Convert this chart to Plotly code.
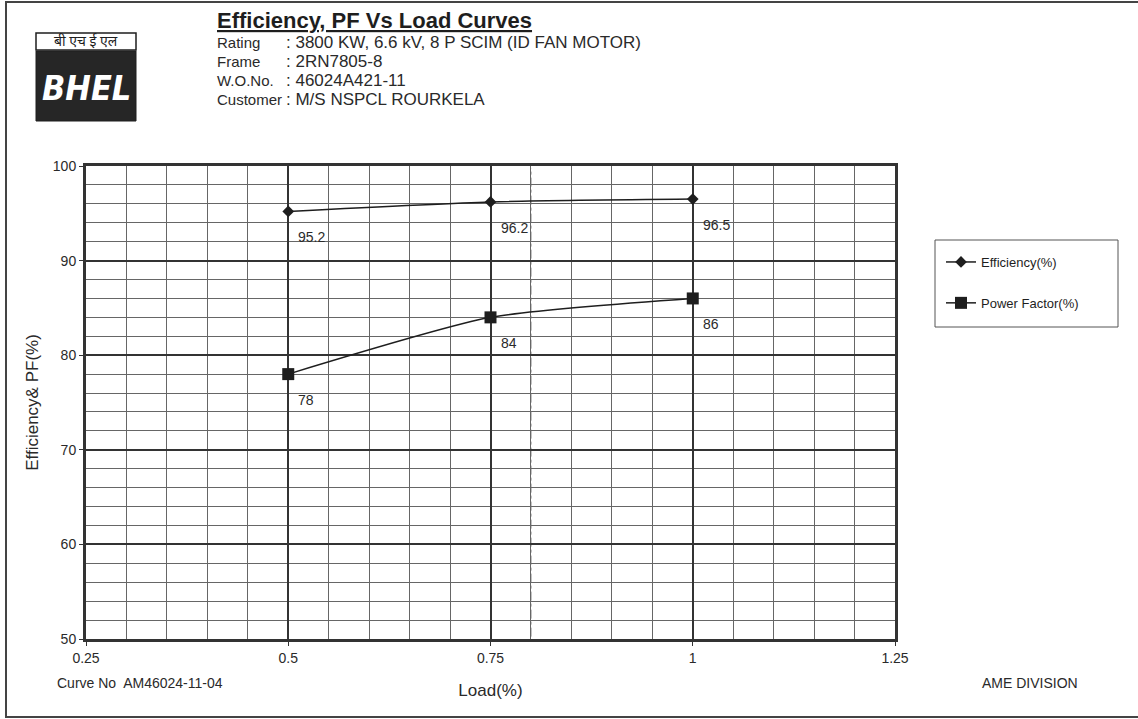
import plotly.graph_objects as go

# ---- data ----
load = [0.5, 0.75, 1.0]
efficiency = [95.2, 96.2, 96.5]
power_factor = [78, 84, 86]
eff_labels = ["95.2", "96.2", "96.5"]
pf_labels = ["78", "84", "86"]
x_tickvals = [0.25, 0.5, 0.75, 1.0, 1.25]
x_ticktext = ["0.25", "0.5", "0.75", "1", "1.25"]
y_tickvals = [50, 60, 70, 80, 90, 100]

header_title = "Efficiency, PF Vs Load Curves"
header_labels = ["Rating", "Frame", "W.O.No.", "Customer"]
header_values = [": 3800 KW, 6.6 kV, 8 P SCIM (ID FAN MOTOR)",
                 ": 2RN7805-8",
                 ": 46024A421-11",
                 ": M/S NSPCL ROURKELA"]
curve_no = "Curve No  AM46024-11-04"
division = "AME DIVISION"
logo_hindi = "बी एच ई एल"
logo_text = "BHEL"

# ---- layout geometry ----
W, H = 1138, 719
L, R, T, B = 86, 895, 166, 639
FONT = "Liberation Sans, Arial, sans-serif"
INK = "#1e1e1e"
TXT = "#2a2a2a"


def px(xp):
    return (xp - L) / (R - L)


def py(yp):
    return 1 - (yp - T) / (B - T)


fig = go.Figure()
fig.add_trace(go.Scatter(
    x=load, y=efficiency, mode="lines+markers", name="Efficiency(%)",
    legendgroup="eff",
    line=dict(color=INK, width=1.5, shape="spline", smoothing=0.6),
    marker=dict(symbol="diamond", size=9, color=INK),
))
fig.add_trace(go.Scatter(
    x=load, y=power_factor, mode="lines+markers", name="Power Factor(%)",
    legendgroup="pf",
    line=dict(color=INK, width=1.5, shape="spline", smoothing=0.6),
    marker=dict(symbol="square", size=12, color=INK),
))

annotations = []
for xs, ys, labs in ((load, efficiency, eff_labels), (load, power_factor, pf_labels)):
    for xv, yv, t in zip(xs, ys, labs):
        annotations.append(dict(
            x=xv, y=yv, xref="x", yref="y", text=t, showarrow=False,
            xanchor="left", yanchor="top", xshift=8, yshift=-16,
            font=dict(family=FONT, size=14, color=TXT)))

# header
annotations.append(dict(
    x=px(215), y=py(20), xref="paper", yref="paper",
    text="<b><u>" + header_title + "</u></b>", showarrow=False,
    xanchor="left", yanchor="middle", font=dict(family=FONT, size=22, color=INK)))
for i, (lab, val) in enumerate(zip(header_labels, header_values)):
    yy = 43 + i * 18.7
    annotations.append(dict(
        x=px(215), y=py(yy), xref="paper", yref="paper", text=lab,
        showarrow=False, xanchor="left", yanchor="middle",
        font=dict(family=FONT, size=15, color=TXT)))
    annotations.append(dict(
        x=px(284), y=py(yy), xref="paper", yref="paper", text=val,
        showarrow=False, xanchor="left", yanchor="middle",
        font=dict(family=FONT, size=17, color=TXT)))

# logo texts
annotations.append(dict(
    x=px(86), y=py(41), xref="paper", yref="paper", text=logo_hindi,
    showarrow=False, xanchor="center", yanchor="middle",
    font=dict(family="Noto Sans, sans-serif", size=14, color=INK)))
annotations.append(dict(
    x=px(86), y=py(88), xref="paper", yref="paper",
    text="<b><i>" + logo_text + "</i></b>",
    showarrow=False, xanchor="center", yanchor="middle",
    font=dict(family="DejaVu Sans Condensed, DejaVu Sans, sans-serif", size=34, color="white")))

# footer
annotations.append(dict(
    x=px(55), y=py(683), xref="paper", yref="paper", text=curve_no,
    showarrow=False, xanchor="left", yanchor="middle",
    font=dict(family=FONT, size=14, color=TXT)))
annotations.append(dict(
    x=px(980), y=py(683), xref="paper", yref="paper", text=division,
    showarrow=False, xanchor="left", yanchor="middle",
    font=dict(family=FONT, size=14, color=TXT)))

shapes = [
    # page frame
    dict(type="rect", xref="paper", yref="paper",
         x0=px(6), x1=px(1150), y0=py(717), y1=py(2),
         line=dict(color="#444", width=2), fillcolor="rgba(0,0,0,0)", layer="below"),
    # legend box
    dict(type="rect", xref="paper", yref="paper",
         x0=px(935), x1=px(1118), y0=py(327), y1=py(240),
         line=dict(color="#555", width=1), fillcolor="white", layer="below"),
    # logo
    dict(type="rect", xref="paper", yref="paper",
         x0=px(36), x1=px(136), y0=py(50), y1=py(33),
         line=dict(color=INK, width=1.5), fillcolor="white"),
    dict(type="rect", xref="paper", yref="paper",
         x0=px(36), x1=px(136), y0=py(121), y1=py(51),
         line=dict(color=INK, width=1), fillcolor="#262626"),
    # faint dash-dot vertical line seen on the sheet
    dict(type="line", xref="x", yref="paper", x0=0.8, x1=0.8, y0=0.005, y1=0.995,
         line=dict(color="#777", width=1, dash="dashdot"), layer="below"),
]

fig.update_layout(
    width=W, height=H,
    margin=dict(l=L, r=W - R, t=T, b=H - B),
    paper_bgcolor="white", plot_bgcolor="white",
    font=dict(family=FONT, color=INK),
    showlegend=True,
    legend=dict(
        x=px(941), y=py(247), xanchor="left", yanchor="top",
        borderwidth=0, bgcolor="rgba(0,0,0,0)",
        font=dict(family=FONT, size=13, color=INK),
        tracegroupgap=21, traceorder="grouped",
    ),
    annotations=annotations,
    shapes=shapes,
    xaxis=dict(
        range=[0.25, 1.25], tickvals=x_tickvals, ticktext=x_ticktext,
        showgrid=True, gridcolor="#333", gridwidth=1.5,
        minor=dict(tick0=0.25, dtick=0.05, showgrid=True,
                   gridcolor="#666", gridwidth=1),
        showline=True, linecolor="#333", linewidth=3, mirror=True,
        ticks="outside", ticklen=4, tickcolor="#333", zeroline=False,
        tickfont=dict(family=FONT, size=14, color=TXT),
        title=dict(text="Load(%)", standoff=20,
                   font=dict(family=FONT, size=17, color=TXT)),
    ),
    yaxis=dict(
        range=[50, 100], tickvals=y_tickvals,
        showgrid=True, gridcolor="#333", gridwidth=1.5,
        minor=dict(tick0=50, dtick=2, showgrid=True,
                   gridcolor="#666", gridwidth=1),
        showline=True, linecolor="#333", linewidth=3, mirror=True,
        ticks="outside", ticklen=4, tickcolor="#333", zeroline=False,
        tickfont=dict(family=FONT, size=14, color=TXT),
        title=dict(text="Efficiency& PF(%)", standoff=10,
                   font=dict(family=FONT, size=17, color=TXT)),
    ),
)

fig.write_html(
    "out.html",
    config={"displayModeBar": False},
    post_script="document.body.style.margin='0';document.body.style.padding='0';",
)
